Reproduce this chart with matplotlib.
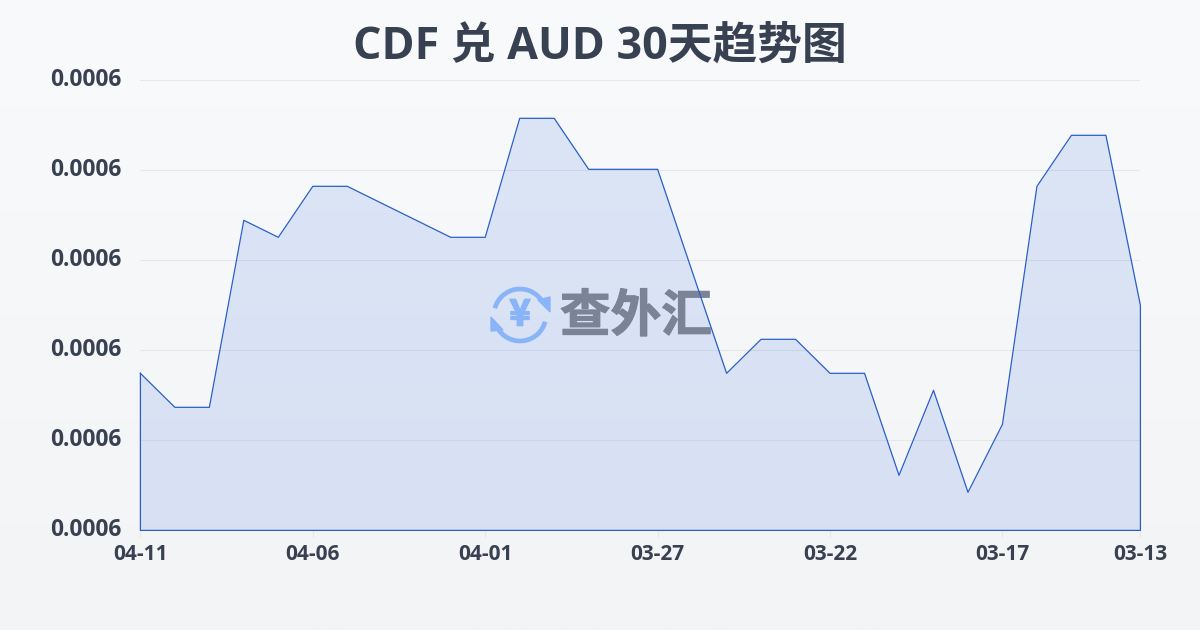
import numpy as np
import matplotlib
matplotlib.use('Agg')
import matplotlib.pyplot as plt
import matplotlib.patheffects as pe
from matplotlib.patches import Arc, Polygon
from matplotlib.transforms import Affine2D

plt.rcParams['font.family'] = ['Open Sans', 'Noto Sans CJK SC', 'DejaVu Sans']

title = 'CDF 兑 AUD 30天趋势图'
watermark = '查外汇'

# дата идёт от новой к старой, как на картинке
dates = ['04-11', '04-10', '04-09', '04-08', '04-07', '04-06', '04-05', '04-04', '04-03', '04-02',
         '04-01', '03-31', '03-30', '03-29', '03-28', '03-27', '03-26', '03-25', '03-24', '03-23',
         '03-22', '03-21', '03-20', '03-19', '03-18', '03-17', '03-16', '03-15', '03-14', '03-13']
rates = [0.000599, 0.000597, 0.000597, 0.000608, 0.000607, 0.000610, 0.000610, 0.000609, 0.000608, 0.000607,
         0.000607, 0.000614, 0.000614, 0.000611, 0.000611, 0.000611, 0.000605, 0.000599, 0.000601, 0.000601,
         0.000599, 0.000599, 0.000593, 0.000598, 0.000592, 0.000596, 0.000610, 0.000613, 0.000613, 0.000603]
tick_idx = [0, 5, 10, 15, 20, 25, 29]
y_min = 0.00058976
y_max = 0.00061623

text_color = '#374151'
line_color = '#2a5fc9'
grid_color = '#e5e7eb'
logo_color = '#8ab4f8'

fig = plt.figure(figsize=(12, 6.3), dpi=100)

# фон - вертикальный градиент
bg = fig.add_axes([0, 0, 1, 1], zorder=0)
bg.imshow(np.linspace(0, 1, 256).reshape(-1, 1), aspect='auto', extent=(0, 1, 0, 1),
          cmap=matplotlib.colors.LinearSegmentedColormap.from_list('bg', ['#f9fafb', '#f3f4f6']))
bg.axis('off')

ax = fig.add_axes([140.4 / 1200, 1 - 530.4 / 630, 1000 / 1200, 450 / 630], zorder=1)
ax.patch.set_alpha(0)
x = np.arange(len(rates))
ax.set_xlim(0, len(rates) - 1)
ax.set_ylim(y_min, y_max)

ax.fill_between(x, rates, y_min, color='#2563e0', alpha=0.135, linewidth=0, zorder=2)
# контур замкнут по бокам и снизу
ax.plot(np.r_[x, x[-1], x[0], x[0]], np.r_[rates, y_min, y_min, rates[0]],
        color=line_color, linewidth=0.9, clip_on=False, zorder=5)

ax.set_yticks(np.linspace(y_min, y_max, 6))
ax.yaxis.set_major_formatter(matplotlib.ticker.FormatStrFormatter('%.4f'))
ax.set_xticks(tick_idx)
ax.set_xticklabels([dates[i] for i in tick_idx])
ax.tick_params(axis='y', length=0, pad=13.5, labelsize=16.4, labelcolor=text_color)
ax.tick_params(axis='x', length=5, width=0.8, color=grid_color, pad=5, labelsize=15, labelcolor=text_color)
for lab in ax.get_xticklabels() + ax.get_yticklabels():
    lab.set_fontweight('bold')
    lab.set_verticalalignment('center') if lab in ax.get_yticklabels() else None
ax.grid(axis='y', color=grid_color, linewidth=0.8, zorder=1)
ax.set_axisbelow(True)
for s in ax.spines.values():
    s.set_visible(False)

fig.text(0.5, 1 - 47.5 / 630, title, ha='center', va='center', fontsize=32.2, fontweight='bold', color=text_color)

# водяной знак в пикселях картинки
px = Affine2D().scale(1, -1).translate(0, 630)
ax.text(636, 317, watermark, transform=px, ha='center', va='center', fontsize=36.5, fontweight='bold',
        color='#7a8496', family=['Noto Sans CJK SC', 'DejaVu Sans'], zorder=4,
        path_effects=[pe.withStroke(linewidth=0.8, foreground='#7a8496')])
for t1, t2 in [(195, 325), (15, 145)]:
    ax.add_patch(Arc((520, 315), 52, 52, theta1=t1, theta2=t2, transform=px, color=logo_color,
                     linewidth=3.4, zorder=4, clip_on=False))
ax.add_patch(Polygon([(538, 300), (550, 297), (550, 312)], transform=px, color=logo_color, zorder=4, clip_on=False))
ax.add_patch(Polygon([(491, 317), (491, 331), (503, 330)], transform=px, color=logo_color, zorder=4, clip_on=False))
ax.text(520, 315, '¥', transform=px, ha='center', va='center', fontsize=26, fontweight='bold',
        color=logo_color, family=['Noto Sans CJK SC', 'DejaVu Sans'], zorder=4,
        path_effects=[pe.withStroke(linewidth=1.2, foreground=logo_color)])

fig.savefig('out.png', dpi=100)
